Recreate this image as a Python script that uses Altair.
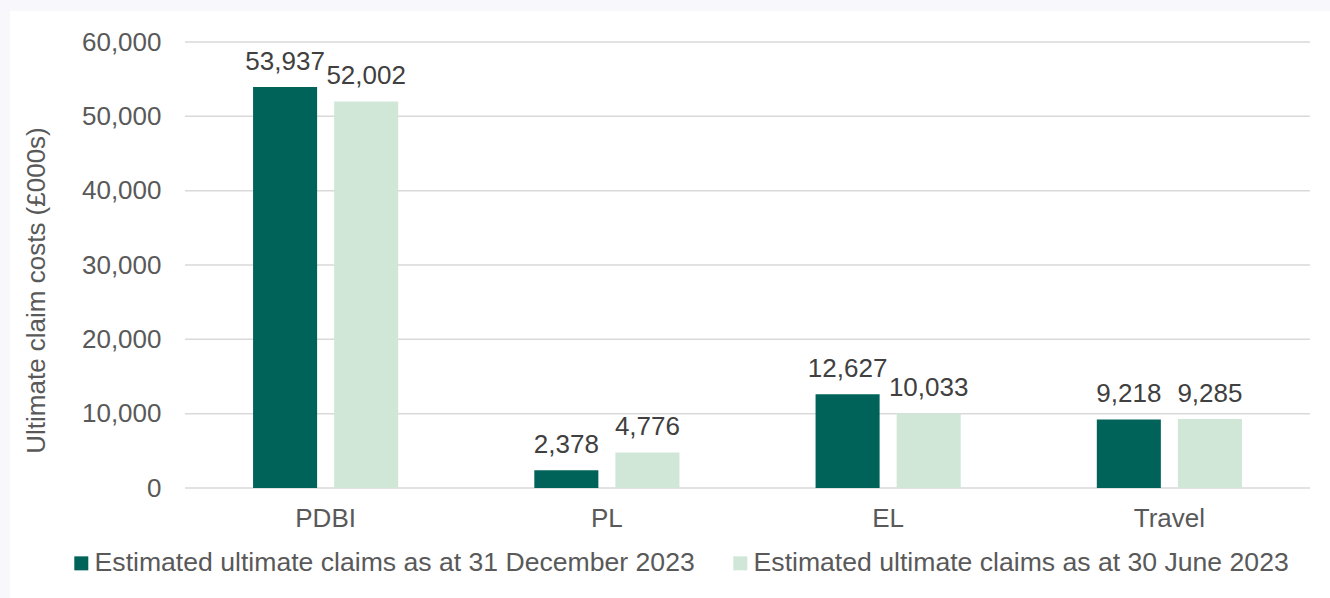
import altair as alt
import pandas as pd

categories = ["PDBI", "PL", "EL", "Travel"]
series = [
    "Estimated ultimate claims as at 31 December 2023",
    "Estimated ultimate claims as at 30 June 2023",
]
dec_2023 = [53937, 2378, 12627, 9218]
jun_2023 = [52002, 4776, 10033, 9285]
y_ticks = [0, 10000, 20000, 30000, 40000, 50000, 60000]
colors = ["#00635A", "#D0E7D8"]

rows = []
for c, v1, v2 in zip(categories, dec_2023, jun_2023):
    rows.append({"category": c, "series": series[0], "value": v1})
    rows.append({"category": c, "series": series[1], "value": v2})
df = pd.DataFrame(rows)

FONT = "Liberation Sans"
W, H = 1125, 446

x_enc = alt.X(
    "category:N",
    sort=categories,
    scale=alt.Scale(paddingInner=0.484, paddingOuter=0.242),
    axis=alt.Axis(
        title=None, labelAngle=0, labelFontSize=26, labelColor="#595959",
        labelPadding=17, ticks=False, tickSize=0, domain=False, grid=False,
        labelFont=FONT, zindex=1,
    ),
)
xo_enc = alt.XOffset(
    "series:N", sort=series, scale=alt.Scale(paddingInner=0.21, paddingOuter=0)
)
y_axis = alt.Axis(
    title="Ultimate claim costs (£000s)", values=y_ticks, format=",.0f",
    labelFontSize=26, labelColor="#595959", labelPadding=24, labelFont=FONT,
    ticks=False, tickSize=0, domain=False, grid=False, zindex=1,
    titleFont=FONT, titleFontSize=26, titleColor="#595959",
    titleFontWeight="normal", titleAngle=270, titleX=-141, titleY=248,
    titleAlign="center", titleBaseline="alphabetic",
)
y_scale = alt.Scale(domain=[0, 60000], nice=False)

frame = alt.Chart(pd.DataFrame({"a": [0]})).mark_rect(fill="white").encode(
    x=alt.value(-175), x2=alt.value(1145), y=alt.value(-31), y2=alt.value(556)
)

grid = alt.Chart(pd.DataFrame({"value": y_ticks})).mark_rule(
    color="#D9D9D9", strokeWidth=1.5
).encode(y=alt.Y("value:Q", scale=y_scale, axis=y_axis))

bars = alt.Chart(df).mark_bar().encode(
    x=x_enc,
    xOffset=xo_enc,
    y=alt.Y("value:Q", scale=y_scale, axis=y_axis),
    color=alt.Color(
        "series:N", sort=series,
        scale=alt.Scale(domain=series, range=colors),
        legend=alt.Legend(
            title=None, orient="none", legendX=-117, legendY=508,
            direction="horizontal", columns=2, symbolType="square",
            symbolSize=196, symbolStrokeWidth=0, labelFontSize=26.6,
            labelColor="#595959", labelFont=FONT, columnPadding=32,
            labelOffset=0, padding=0, labelLimit=0,
        ),
    ),
)

labels = alt.Chart(df).mark_text(
    baseline="alphabetic", dy=-17, fontSize=26, color="#404040", font=FONT
).encode(
    x=alt.X("category:N", sort=categories),
    xOffset=alt.XOffset("series:N", sort=series),
    y=alt.Y("value:Q"),
    text=alt.Text("value:Q", format=","),
)

chart = alt.layer(frame, grid, bars, labels).properties(
    width=W, height=H,
    background="#F8F8FC",
    padding={"left": 185, "top": 42, "right": 20, "bottom": 110},
    autosize=alt.AutoSizeParams(type="none"),
).configure_view(stroke=None).configure(font=FONT)

chart.save("out.html", embed_options={"renderer": "svg", "actions": False})
